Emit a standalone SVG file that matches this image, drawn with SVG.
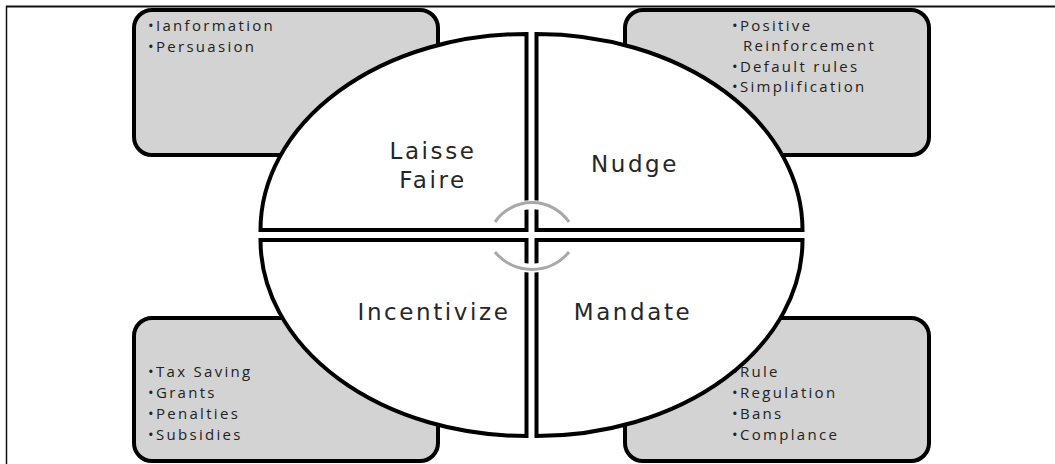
<svg xmlns="http://www.w3.org/2000/svg" width="1055" height="464" viewBox="0 0 1055 464">
<style>
.box{fill:#d3d3d3;stroke:#000;stroke-width:4}
.quad{fill:#fff;stroke:#000;stroke-width:4;stroke-linejoin:miter}
.lbl{font-family:"DejaVu Sans","Open Sans",sans-serif;font-size:23px;fill:#262626;text-anchor:middle;letter-spacing:2.6px}
.bul{font-family:"Open Sans","DejaVu Sans",sans-serif;font-size:15px;fill:#222;letter-spacing:2.3px}
.halo{fill:none;stroke:#fff;stroke-width:9}
.arc{fill:none;stroke:#a8a8a8;stroke-width:3}
</style>
<rect width="1055" height="464" fill="#fff"/>
<g id="frame">
<line x1="6" y1="6.5" x2="1055" y2="6.5" stroke="#111" stroke-width="2"/>
<line x1="6.5" y1="6" x2="6.5" y2="464" stroke="#111" stroke-width="1.5"/>
</g>
<g id="box-tl">
<rect class="box" x="134" y="10" width="304" height="145" rx="18"/>
<text class="bul" x="148" y="31">•Ianformation</text>
<text class="bul" x="148" y="52">•Persuasion</text>
</g>
<g id="box-tr">
<rect class="box" x="625" y="10" width="304" height="145" rx="18"/>
<text class="bul" x="732" y="31">•Positive</text>
<text class="bul" x="743" y="51">Reinforcement</text>
<text class="bul" x="732" y="72">•Default rules</text>
<text class="bul" x="732" y="92">•Simplification</text>
</g>
<g id="box-bl">
<rect class="box" x="134" y="318" width="304" height="143" rx="18"/>
<text class="bul" x="148" y="377">•Tax Saving</text>
<text class="bul" x="148" y="398">•Grants</text>
<text class="bul" x="148" y="419">•Penalties</text>
<text class="bul" x="148" y="440">•Subsidies</text>
</g>
<g id="box-br">
<rect class="box" x="625" y="318" width="304" height="143" rx="18"/>
<text class="bul" x="732" y="377">•Rule</text>
<text class="bul" x="732" y="398">•Regulation</text>
<text class="bul" x="732" y="419">•Bans</text>
<text class="bul" x="732" y="440">•Complance</text>
</g>
<g id="laisse-faire">
<path class="quad" d="M526.5,230 H260.5 A266,196 0 0 1 526.5,34 Z"/>
<text class="lbl" x="433" y="159">Laisse</text>
<text class="lbl" x="433" y="188">Faire</text>
</g>
<g id="nudge">
<path class="quad" d="M536.5,230 V34 A266,196 0 0 1 802.5,230 Z"/>
<text class="lbl" x="635" y="172">Nudge</text>
</g>
<g id="incentivize">
<path class="quad" d="M526.5,240 V436 A266,196 0 0 1 260.5,240 Z"/>
<text class="lbl" x="434" y="320">Incentivize</text>
</g>
<g id="mandate">
<path class="quad" d="M536.5,240 H802.5 A266,196 0 0 1 536.5,436 Z"/>
<text class="lbl" x="633" y="320">Mandate</text>
</g>
<g id="connectors">
<path class="halo" d="M497,221 A46,46 0 0 1 567,221"/>
<path class="halo" d="M497,253 A48,48 0 0 0 567,253"/>
<path class="arc" d="M495,222 A45,45 0 0 1 569,222"/>
<path class="arc" d="M495,252 A48,48 0 0 0 569,252"/>
</g>
</svg>
